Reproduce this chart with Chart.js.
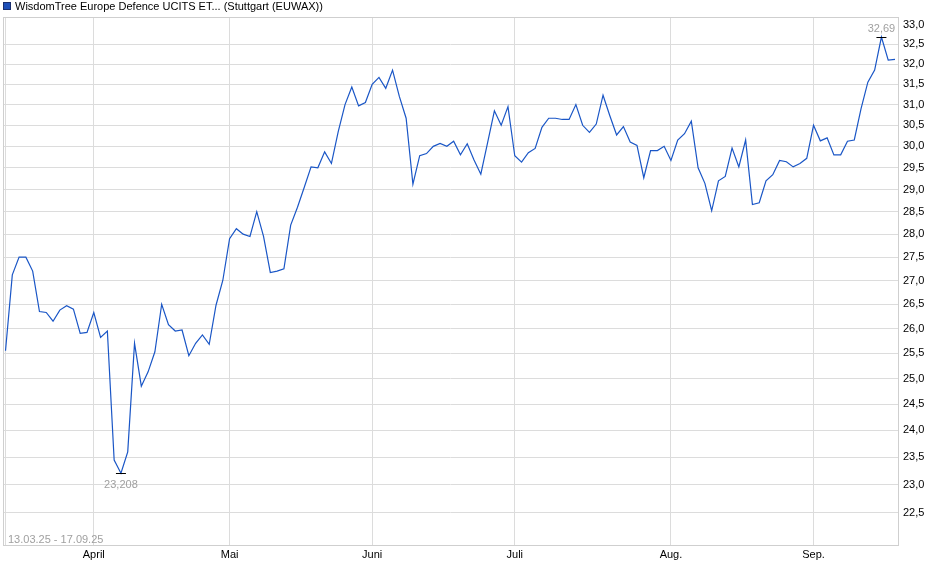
<!DOCTYPE html>
<html>
<head>
<meta charset="utf-8">
<script src="https://cdn.jsdelivr.net/npm/chart.js@4"></script>
<style>
  html, body { margin: 0; padding: 0; background: #fff; }
  #wrap { width: 940px; height: 579px; position: relative; }
</style>
</head>
<body>
<div id="wrap"><canvas id="kursChart"></canvas></div>
<script>
// trading days shown on the chart (Stuttgart)
const tradingDays = [
  '13.03.25','14.03.25','17.03.25','18.03.25','19.03.25','20.03.25','21.03.25','24.03.25','25.03.25','26.03.25','27.03.25','28.03.25','31.03.25',
  '01.04.25','02.04.25','03.04.25','04.04.25','07.04.25','08.04.25','09.04.25','10.04.25','11.04.25','14.04.25','15.04.25','16.04.25','17.04.25','22.04.25','23.04.25','24.04.25','25.04.25','28.04.25','29.04.25','30.04.25',
  '02.05.25','05.05.25','06.05.25','07.05.25','08.05.25','09.05.25','12.05.25','13.05.25','14.05.25','15.05.25','16.05.25','19.05.25','20.05.25','21.05.25','22.05.25','23.05.25','26.05.25','27.05.25','28.05.25','29.05.25','30.05.25',
  '02.06.25','03.06.25','04.06.25','05.06.25','06.06.25','09.06.25','10.06.25','11.06.25','12.06.25','13.06.25','16.06.25','17.06.25','18.06.25','19.06.25','20.06.25','23.06.25','24.06.25','25.06.25','26.06.25','27.06.25','30.06.25',
  '01.07.25','02.07.25','03.07.25','04.07.25','07.07.25','08.07.25','09.07.25','10.07.25','11.07.25','14.07.25','15.07.25','16.07.25','17.07.25','18.07.25','21.07.25','22.07.25','23.07.25','24.07.25','25.07.25','28.07.25','29.07.25','30.07.25','31.07.25',
  '01.08.25','04.08.25','05.08.25','06.08.25','07.08.25','08.08.25','11.08.25','12.08.25','13.08.25','14.08.25','15.08.25','18.08.25','19.08.25','20.08.25','21.08.25','22.08.25','25.08.25','26.08.25','27.08.25','28.08.25','29.08.25',
  '01.09.25','02.09.25','03.09.25','04.09.25','05.09.25','08.09.25','09.09.25','10.09.25','11.09.25','12.09.25','15.09.25','16.09.25','17.09.25'
];

// closing prices in EUR
const prices = [
  25.55, 27.12, 27.50, 27.50, 27.20, 26.35, 26.33, 26.15, 26.38, 26.47, 26.40, 25.90, 25.92,
  26.33, 25.82, 25.95, 23.45, 23.208, 23.60, 25.70, 24.85, 25.13, 25.53, 26.50, 26.08, 25.95, 25.97, 25.45, 25.70, 25.87, 25.68, 26.48, 27.00,
  27.90, 28.12, 28.00, 27.95, 28.50, 27.95, 27.17, 27.20, 27.25, 28.20, 28.60, 29.05, 29.52, 29.50, 29.87, 29.60, 30.35, 31.00, 31.43, 30.97, 31.05,
  31.50, 31.67, 31.40, 31.85, 31.20, 30.67, 29.12, 29.78, 29.83, 30.00, 30.07, 30.00, 30.12, 29.80, 30.06, 29.68, 29.35, 30.09, 30.85, 30.50, 30.95,
  29.78, 29.63, 29.85, 29.95, 30.45, 30.67, 30.67, 30.64, 30.64, 31.00, 30.50, 30.33, 30.53, 31.23, 30.73, 30.27, 30.47, 30.10, 30.02, 29.27, 29.90, 29.90, 30.00,
  29.67, 30.15, 30.30, 30.60, 29.50, 29.14, 28.52, 29.20, 29.30, 29.96, 29.52, 30.15, 28.66, 28.70, 29.20, 29.34, 29.67, 29.64, 29.52, 29.60, 29.72,
  30.50, 30.13, 30.20, 29.80, 29.80, 30.12, 30.15, 30.90, 31.55, 31.85, 32.69, 32.10, 32.12
];

const monthNames = { '03': 'März', '04': 'April', '05': 'Mai', '06': 'Juni', '07': 'Juli', '08': 'Aug.', '09': 'Sep.' };
const yTicks = [22.5, 23.0, 23.5, 24.0, 24.5, 25.0, 25.5, 26.0, 26.5, 27.0, 27.5, 28.0, 28.5, 29.0, 29.5, 30.0, 30.5, 31.0, 31.5, 32.0, 32.5, 33.0];
const seriesName = 'WisdomTree Europe Defence UCITS ET... (Stuttgart (EUWAX))';

// first trading day of every month -> vertical grid lines
const monthStarts = [0];
for (let i = 1; i < tradingDays.length; i++) {
  if (tradingDays[i].slice(3, 5) !== tradingDays[i - 1].slice(3, 5)) monthStarts.push(i);
}

const points = prices.map((p, i) => ({ x: i, y: p }));
const comma = (v, d) => v.toFixed(d).replace('.', ',');

Chart.defaults.font.family = '"Liberation Sans", Arial, sans-serif';
Chart.defaults.font.size = 11;

// frame, title, date range, min / max markers
const decorations = {
  id: 'decorations',
  afterDraw(chart) {
    const { ctx, chartArea: a, scales } = chart;
    ctx.save();
    ctx.strokeStyle = '#cfcfcf';
    ctx.lineWidth = 1;
    ctx.strokeRect(a.left + 0.5, a.top + 0.5, a.right - a.left, a.bottom - a.top);

    // legend-like title
    ctx.fillStyle = '#1d4fb8';
    ctx.fillRect(3, 2, 8, 8);
    ctx.strokeStyle = '#1a2f6e';
    ctx.strokeRect(3.5, 2.5, 7, 7);
    ctx.fillStyle = '#000';
    ctx.font = '11px "Liberation Sans", Arial, sans-serif';
    ctx.textBaseline = 'middle';
    ctx.textAlign = 'left';
    ctx.fillText(seriesName, 15, 6.5);

    ctx.fillStyle = '#a0a0a0';
    ctx.textBaseline = 'alphabetic';
    ctx.fillText(tradingDays[0].replace(/^(\d\d\.\d\d\.)/, '$1') + ' - ' + tradingDays[tradingDays.length - 1], 8, 543);

    // min / max
    let iMin = 0, iMax = 0;
    prices.forEach((p, i) => { if (p < prices[iMin]) iMin = i; if (p > prices[iMax]) iMax = i; });
    const mark = (i, below) => {
      const x = scales.x.getPixelForValue(i);
      const y = scales.y.getPixelForValue(prices[i]);
      ctx.strokeStyle = '#000';
      ctx.beginPath();
      ctx.moveTo(x - 5, Math.round(y) + 0.5);
      ctx.lineTo(x + 5, Math.round(y) + 0.5);
      ctx.stroke();
      ctx.fillStyle = '#a0a0a0';
      ctx.textAlign = 'center';
      ctx.textBaseline = 'middle';
      const txt = String(prices[i]).replace('.', ',');
      ctx.fillText(txt, x, below ? y + 12 : y - 8);
    };
    mark(iMin, true);
    mark(iMax, false);
    ctx.restore();
  }
};

new Chart(document.getElementById('kursChart'), {
  type: 'line',
  data: {
    datasets: [{
      label: seriesName,
      data: points,
      borderColor: '#1a56c6',
      borderWidth: 1.2,
      pointRadius: 0,
      tension: 0,
      fill: false
    }]
  },
  options: {
    responsive: true,
    maintainAspectRatio: false,
    animation: false,
    layout: { padding: { top: 17, left: 3, right: 0, bottom: 0 } },
    plugins: {
      legend: { display: false },
      tooltip: { enabled: false }
    },
    scales: {
      x: {
        type: 'linear',
        min: -0.37,
        max: 131.44,
        afterBuildTicks(scale) { scale.ticks = monthStarts.map(v => ({ value: v })); },
        afterFit(scale) { scale.height = 34; },
        ticks: {
          autoSkip: false,
          maxRotation: 0,
          padding: 3,
          color: '#000',
          callback: v => v === 0 ? '' : monthNames[tradingDays[v].slice(3, 5)]
        },
        grid: { color: '#dcdcdc', drawTicks: false },
        border: { display: false }
      },
      y: {
        type: 'logarithmic',
        position: 'right',
        min: 21.935,
        max: 33.208,
        afterBuildTicks(scale) { scale.ticks = yTicks.map(v => ({ value: v })); },
        afterFit(scale) { scale.width = 42; },
        ticks: {
          padding: 5,
          color: '#000',
          callback: v => comma(v, 1)
        },
        grid: {
          drawTicks: false,
          color: ctx => (ctx.tick && ctx.tick.value === 33) ? 'rgba(0,0,0,0)' : '#dcdcdc'
        },
        border: { display: false }
      }
    }
  },
  plugins: [decorations]
});
</script>
</body>
</html>
